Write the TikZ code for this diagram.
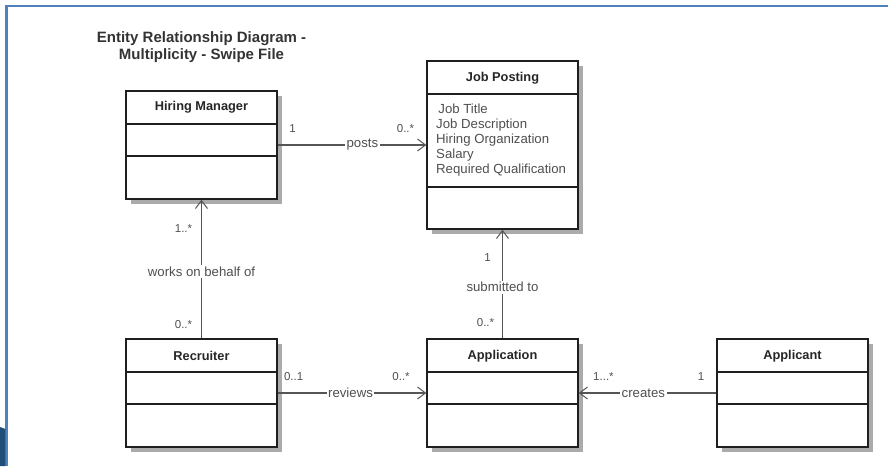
\documentclass[tikz,border=0pt]{standalone}
\usepackage{fontspec}
\setmainfont{Liberation Sans}
\usetikzlibrary{arrows.meta,shadows}
\definecolor{frameblue}{HTML}{4F81BD}
\definecolor{darkblue}{HTML}{1F4E79}
\definecolor{txtgray}{HTML}{505050}
\definecolor{linegray}{HTML}{555555}
\begin{document}
\begin{tikzpicture}[x=1pt,y=-1pt,
  cls/.style={rectangle, draw=black!88, line width=1.4pt, fill=white, minimum width=151pt, inner sep=0pt,
    drop shadow={shadow xshift=4.5pt, shadow yshift=-4.5pt, fill=black!33, opacity=1}},
  divider/.style={draw=black!88, line width=1.4pt},
  clsname/.style={font=\fontsize{12.8}{15}\selectfont\bfseries, text=black!85},
  attrs/.style={font=\fontsize{13.2}{15.2}\selectfont, text=txtgray, align=left, anchor=west, inner sep=0pt},
  assoc/.style={draw=linegray, line width=1.1pt, -{Straight Barb[length=8pt,width=12pt,line width=1pt]}},
  lbl/.style={font=\fontsize{13.2}{15}\selectfont, text=txtgray, fill=white, inner sep=1.5pt},
  mult/.style={font=\fontsize{11.5}{13}\selectfont, text=txtgray, inner sep=0pt},
  titletext/.style={font=\fontsize{15}{17}\selectfont\bfseries, text=black!80, align=center}
]
\useasboundingbox (0,0) rectangle (888,466);
\fill[white] (0,0) rectangle (888,466);

% frame
\draw[frameblue, line width=2.2pt] (6.5,466) -- (6.5,6) -- (888,6);
\fill[darkblue] (0,427) -- (5.4,429) -- (5.4,466) -- (0,466) -- cycle;

% title
\node[titletext] (title) at (201.5,47) {Entity Relationship Diagram -\\Multiplicity - Swipe File};

% classes
\node[cls, minimum height=108pt] (hm) at (201.5,145) {};
\node[cls, minimum height=168pt] (jp) at (502.5,145) {};
\node[cls, minimum height=108pt] (rec) at (201.5,393) {};
\node[cls, minimum height=108pt] (app) at (502.5,393) {};
\node[cls, minimum height=108pt] (apt) at (792.5,393) {};

% compartments
\draw[divider] (hm.west |- 0,124) -- (hm.east |- 0,124);
\draw[divider] (hm.west |- 0,156) -- (hm.east |- 0,156);
\draw[divider] (jp.west |- 0,94) -- (jp.east |- 0,94);
\draw[divider] (jp.west |- 0,187) -- (jp.east |- 0,187);
\foreach \c in {rec,app,apt}{
  \draw[divider] (\c.west |- 0,372) -- (\c.east |- 0,372);
  \draw[divider] (\c.west |- 0,404) -- (\c.east |- 0,404);
}

% class names
\node[clsname] (hmn) at (201.5,107.5) {Hiring Manager};
\node[clsname] (jpn) at (502.5,78) {Job Posting};
\node[clsname] (recn) at (201.5,356) {Recruiter};
\node[clsname] (appn) at (502.5,356) {Application};
\node[clsname] (aptn) at (792.5,356) {Applicant};

% attributes
\node[attrs] (jpa) at (436,140) {\,Job Title\\Job Description\\Hiring Organization\\Salary\\Required Qualification};

% associations
\draw[assoc] (hm) -- node[lbl, pos=0.57] {posts}
  node[mult, pos=0.1, yshift=16pt] {1}
  node[mult, pos=0.86, yshift=16pt] {0..*} (jp);
\draw[assoc] (rec) -- node[lbl, pos=0.48] {works on behalf of}
  node[mult, pos=0.79, xshift=-18pt] {1..*}
  node[mult, pos=0.1, xshift=-18pt] {0..*} (hm);
\draw[assoc] (app) -- node[lbl, pos=0.47] {submitted to}
  node[mult, pos=0.745, xshift=-15pt] {1}
  node[mult, pos=0.145, xshift=-17pt] {0..*} (jp);
\draw[assoc] (rec) -- node[lbl, pos=0.49] {reviews}
  node[mult, pos=0.107, yshift=16pt] {0..1}
  node[mult, pos=0.83, yshift=16pt] {0..*} (app);
\draw[assoc] (apt) -- node[lbl, pos=0.53] {creates}
  node[mult, pos=0.11, yshift=16pt] {1}
  node[mult, pos=0.82, yshift=16pt] {1...*} (app);
\end{tikzpicture}
\end{document}
